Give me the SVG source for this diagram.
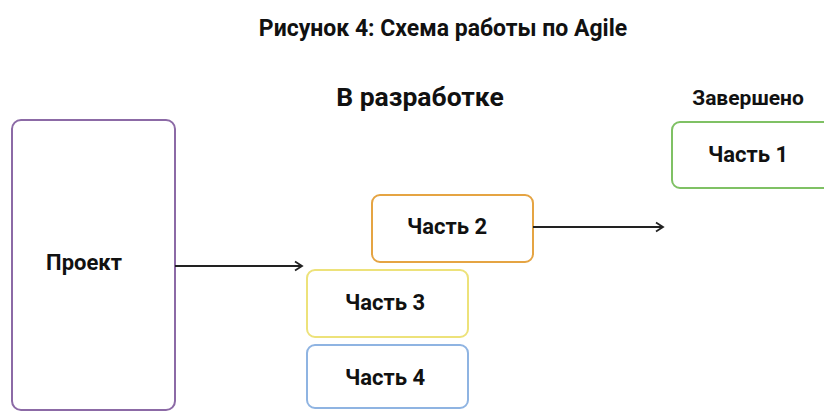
<svg xmlns="http://www.w3.org/2000/svg" width="824" height="412" viewBox="0 0 824 412">
<defs>
<style>
text{font-family:Roboto,"Liberation Sans",sans-serif;font-weight:bold;fill:#111;}
.box{fill:#fff;stroke-width:2;}
.lbl{font-size:22px;text-anchor:middle;}
.conn{stroke:#222;stroke-width:1.8;fill:none;}
</style>
<marker id="arr" markerWidth="12" markerHeight="12" refX="10" refY="6" orient="auto" markerUnits="userSpaceOnUse">
<path d="M3,1.5 L10,6 L3,10.5" fill="none" stroke="#222" stroke-width="1.8"/>
</marker>
</defs>
<rect width="824" height="412" fill="#fff"/>
<text x="443" y="36" font-size="23" text-anchor="middle">Рисунок 4: Схема работы по Agile</text>
<text x="420" y="106" font-size="26.5" text-anchor="middle">В разработке</text>
<text x="748" y="105" font-size="21" text-anchor="middle">Завершено</text>
<g id="project">
<rect class="box" x="12" y="120" width="163" height="290" rx="9" stroke="#8c6aa6"/>
<text class="lbl" x="84" y="270" font-size="21">Проект</text>
</g>
<g id="part2">
<rect class="box" x="372" y="195" width="161" height="67" rx="8" stroke="#e5a443"/>
<text class="lbl" x="447" y="234">Часть 2</text>
</g>
<g id="part3">
<rect class="box" x="307" y="270" width="161" height="67" rx="8" stroke="#ede27a"/>
<text class="lbl" x="385" y="310">Часть 3</text>
</g>
<g id="part4">
<rect class="box" x="307" y="345" width="161" height="63" rx="8" stroke="#8fb4e2"/>
<text class="lbl" x="385" y="385">Часть 4</text>
</g>
<g id="part1">
<rect class="box" x="672" y="122" width="170" height="66" rx="8" stroke="#7fc164"/>
<text class="lbl" x="748" y="162">Часть 1</text>
</g>
<g id="connectors">
<line class="conn" x1="175" y1="266" x2="302" y2="266" marker-end="url(#arr)"/>
<line class="conn" x1="533" y1="227" x2="663" y2="227" marker-end="url(#arr)"/>
</g>
</svg>
